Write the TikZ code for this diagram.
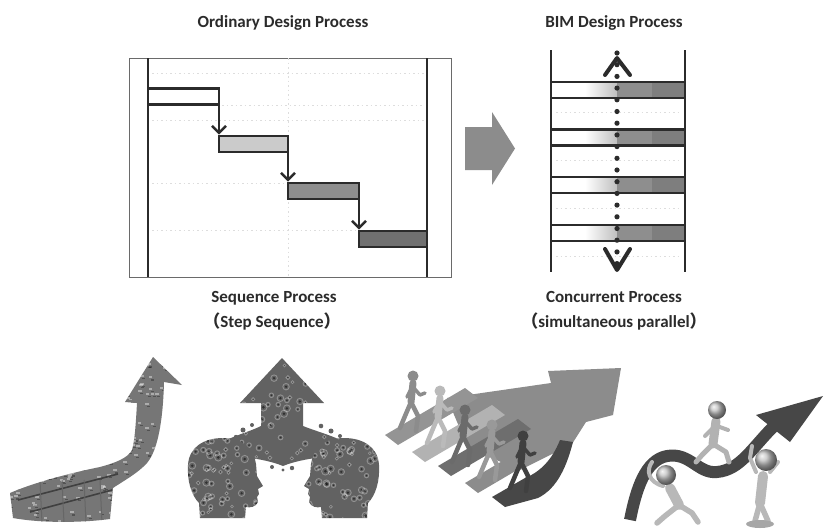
\documentclass[tikz,border=0pt]{standalone}
\usepackage{fontspec}
\setmainfont{Carlito}
\newfontfamily\cjkparen{Noto Sans CJK SC}
\usetikzlibrary{arrows.meta}

\definecolor{ink}{HTML}{2B2B2B}
\definecolor{framegray}{HTML}{6A6A6A}
\definecolor{gridgray}{HTML}{DDDDDD}
\definecolor{barlight}{HTML}{CBCBCB}
\definecolor{barmid}{HTML}{8E8E8E}
\definecolor{bardark}{HTML}{707070}
\definecolor{bigarrow}{HTML}{8C8C8C}
\definecolor{claygray}{HTML}{767676}
\definecolor{geargray}{HTML}{626262}

% random rings and hubs that give a shape a "gear" texture
\newcommand\gearspeckle[5]{%
  \foreach \k in {1,...,#5}{%
    \pgfmathsetmacro\gx{#1+rnd*(#2-#1)}%
    \pgfmathsetmacro\gy{#3+rnd*(#4-#3)}%
    \pgfmathsetmacro\gr{1.2+rnd*2.6}%
    \pgfmathsetmacro\gq{0.4*\gr}%
    \draw[white,opacity=0.3,line width=0.9pt] (\gx,\gy) circle[radius=\gr pt];
    \fill[black,opacity=0.5] (\gx,\gy) circle[radius=\gq pt];
  }}
% random light bricks and dark seams
\newcommand\brickspeckle[5]{%
  \foreach \k in {1,...,#5}{%
    \pgfmathsetmacro\gx{#1+rnd*(#2-#1)}%
    \pgfmathsetmacro\gy{#3+rnd*(#4-#3)}%
    \fill[white,opacity=0.4] (\gx,\gy) rectangle ++(3.5,2);
    \fill[black,opacity=0.3] (\gx+2,\gy+3) rectangle ++(3,1.2);
  }}

\tikzset{
  walker/.pic={
    \draw[line width=7pt,line cap=round] (0,7) -- (-2,26);
    \draw[line width=3.5pt,line cap=round,line join=round] (0,11) -- (7,19) -- (12,17);
    \draw[line width=3.5pt,line cap=round,line join=round] (-1,11) -- (-6,21);
    \draw[line width=4.5pt,line cap=round,line join=round] (-2,26) -- (5,40) -- (3,55);
    \draw[line width=4.5pt,line cap=round,line join=round] (-2,26) -- (-8,40) -- (-13,52);
    \fill (0,0) circle[radius=5.5pt];
  }
}

\begin{document}
\begin{tikzpicture}[x=1pt,y=-1pt,
  headtext/.style={font=\bfseries\fontsize{17}{20}\selectfont,text=ink,inner sep=0pt,anchor=base},
  taskbar/.style={draw=ink,line width=2.4pt,inner sep=0pt,outer sep=0pt,minimum height=16pt},
  flow/.style={draw=ink,line width=2.2pt,shorten >=1.5pt,
    -{Straight Barb[length=7pt,width=14pt,line width=2.4pt]}},
  gridline/.style={gridgray,line width=0.8pt,dash pattern=on 1.5pt off 3pt},
  lane/.style={ink,line width=2.2pt},
  chevron/.style={ink,line width=4pt,line cap=round,line join=round},
  clayman/.style={line cap=round,line join=round}
]
\useasboundingbox (0,0) rectangle (824,528);
\fill[white] (0,0) rectangle (824,528);

% ---------- titles and captions ----------
\node[headtext] (ordtitle) at (283,27) {Ordinary Design Process};
\node[headtext] (bimtitle) at (614,27) {BIM Design Process};
\node[headtext] (seqtitle) at (274,302) {Sequence Process};
\node[headtext] (seqsub) at (272,327) {{\cjkparen （}Step Sequence{\cjkparen ）}};
\node[headtext] (contitle) at (614,302) {Concurrent Process};
\node[headtext] (consub) at (614,327) {{\cjkparen （}simultaneous parallel{\cjkparen ）}};

% ---------- sequential chart ----------
\draw[framegray,line width=1pt] (129,58) rectangle (451,277);
\draw[gridline] (288,58) -- (288,277);
\foreach \gy/\ga/\gb in {73/152/424, 105/222/424, 120/152/424, 183/152/286, 230/152/356}
  \draw[gridline] (\ga,\gy) -- (\gb,\gy);
\draw[ink,line width=2.6pt] (148,58) -- (148,277);
\draw[ink,line width=2.6pt] (427,58) -- (427,277);

\node[taskbar,fill=white,minimum width=71pt] (b1) at (183.5,96.5) {};
\node[taskbar,fill=barlight,minimum width=69pt] (b2) at (253.5,144) {};
\node[taskbar,fill=barmid,minimum width=71pt] (b3) at (323.5,191) {};
\node[taskbar,fill=bardark,minimum width=68pt] (b4) at (393,239) {};
\draw[flow] (b1.south east) -- (b2.north west);
\draw[flow] (b2.south east) -- (b3.north west);
\draw[flow] (b3.south east) -- (b4.north west);

% ---------- transition arrow ----------
\fill[bigarrow] (465,127) -- (492,127) -- (492,112) -- (515,148.5)
  -- (492,185) -- (492,170) -- (465,170) -- cycle;

% ---------- concurrent chart ----------
\foreach \gy in {112,160,208,256}
  \draw[gridline] (556,\gy) -- (680,\gy);
\foreach \cy in {90,137.5,185,233} {
  \shade[left color=white,right color=gray!50] (585,\cy-8) rectangle (617,\cy+8);
  \fill[barmid] (617,\cy-8) rectangle (652,\cy+8);
  \fill[bardark!90] (652,\cy-8) rectangle (685,\cy+8);
  \draw[lane] (551,\cy-8) -- (685,\cy-8);
  \draw[lane] (551,\cy+8) -- (685,\cy+8);
}
\draw[lane] (551,50) -- (551,272);
\draw[lane] (685,50) -- (685,272);
\coordinate (ctop) at (617,58);
\coordinate (cbot) at (617,270);
\draw[ink,line width=5.2pt,line cap=round,dash pattern=on 0pt off 11.7pt] (617,53) -- (617,268);
\draw[chevron] (605,75) -- (ctop) -- (630,75);
\draw[chevron] (605,249) -- (cbot) -- (630,249);

\pgfmathsetseed{11}

% ---------- clip art 1: curved block arrow ----------
\begin{scope}
  \clip (13,518) -- (10,493) .. controls (35,482) and (75,472) .. (100,467)
    .. controls (115,463) and (128,458) .. (132,450)
    .. controls (135,440) and (136,420) .. (137,403) -- (125,402) -- (153,357)
    -- (182,385) -- (164,382) .. controls (163,420) and (158,450) .. (147,463)
    .. controls (138,473) and (125,480) .. (113,488) -- (110,519)
    .. controls (80,523) and (40,523) .. cycle;
  \fill[claygray] (0,350) rectangle (190,528);
  \brickspeckle{8}{185}{355}{525}{300}
  \draw[black!75,line width=1.6pt] (18,500) -- (118,474);
  \draw[black!75,line width=1.6pt] (30,512) -- (112,490);
  \foreach \sx in {40,62,84,100} \draw[black!60,line width=1pt] (\sx,480) -- (\sx+2,523);
\end{scope}

% ---------- clip art 2: two heads and a rising arrow ----------
\begin{scope}
  \clip (282,358) -- (324,403) -- (303,403) -- (303,426)
    .. controls (318,432) and (335,436) .. (350,445) -- (346,456)
    .. controls (325,456) and (300,459) .. (283,466)
    .. controls (266,459) and (241,456) .. (221,456) -- (217,445)
    .. controls (232,436) and (249,432) .. (261,426) -- (261,403) -- (240,403) -- cycle;
  \fill[geargray] (210,350) rectangle (360,470);
  \gearspeckle{215}{355}{355}{470}{90}
\end{scope}
\foreach \dx/\dy/\dr in {243/430/2.5,252/425/2,236/437/2.2,321/426/2.3,331/431/2.5,
  340/436/2,272/467/2,292/468/2.2,283/470/1.6,228/441/1.8}
  \fill[geargray] (\dx,\dy) circle[radius=\dr pt];
\foreach \mirror in {0,1} {
  \begin{scope}[xshift=\mirror*567pt,xscale=1-2*\mirror]
    \clip (200,518) -- (199,503) .. controls (191,495) and (187,480) .. (188,465)
      .. controls (189,447) and (204,438) .. (223,438)
      .. controls (243,438) and (254,449) .. (256,464) -- (257,476) -- (263,486)
      -- (258,489) -- (259,494) -- (257,497) -- (258,502)
      .. controls (256,507) and (250,508) .. (246,507) -- (245,518) -- cycle;
    \fill[geargray] (185,435) rectangle (268,520);
    \gearspeckle{186}{266}{436}{520}{75}
  \end{scope}
}

% ---------- clip art 3: team walking onto a big arrow ----------
\fill[bigarrow] (447,398) -- (551,383) -- (548,371) -- (621,368) -- (613,415)
  -- (586,422) -- (572,444) -- (520,470) -- (468,448) -- cycle;
\foreach \lx/\ly/\tc in {385/435/black!42, 412/452/black!30, 438/466/black!57,
  465/483/black!45} {
  \fill[\tc] (\lx,\ly) -- ++(13,10) -- ++(80,-47) -- ++(-13,-10) -- cycle;
}
\fill[black!72] (492,497) -- (505,507) -- (538,498)
  .. controls (558,488) and (567,465) .. (573,442) -- (560,440)
  .. controls (552,460) and (540,472) .. (525,478) -- cycle;
\pic[color=black!45] at (413,376) {walker};
\pic[color=black!27] at (440,391) {walker};
\pic[color=black!58] at (465,410) {walker};
\pic[color=black!40] at (492,425) {walker};
\pic[color=black!75] at (523,436) {walker};

% ---------- clip art 4: carrying a rising wave arrow ----------
\draw[black!72,line width=12pt] (630,520) .. controls (636,490) and (645,460) .. (667,456)
  .. controls (690,452) and (698,474) .. (717,472)
  .. controls (740,470) and (752,448) .. (773,427);
\fill[black!72] (823,396) -- (756,415) -- (790,442) -- cycle;
% walker on top of the wave
\begin{scope}[clayman,black!30]
  \draw[line width=9pt] (716,421) -- (713,444);
  \draw[line width=5pt] (713,444) -- (726,452) -- (729,462);
  \draw[line width=5pt] (713,444) -- (702,455) -- (696,462);
  \draw[line width=4pt] (717,426) -- (728,430);
  \draw[line width=4pt] (715,426) -- (705,436);
\end{scope}
\shade[ball color=black!25] (717,410) circle[radius=9pt];
% carrier at the lower left
\begin{scope}[clayman,black!28]
  \draw[line width=10pt] (670,488) -- (679,505);
  \draw[line width=5.5pt] (679,505) -- (665,516) -- (657,523);
  \draw[line width=5.5pt] (679,505) -- (692,513) -- (698,522);
  \draw[line width=4pt] (663,486) .. controls (648,482) and (646,470) .. (652,462);
\end{scope}
\shade[ball color=black!25] (666,475) circle[radius=10pt];
% carrier at the right
\begin{scope}[clayman,black!28]
  \draw[line width=10pt] (763,476) -- (760,503);
  \draw[line width=5.5pt] (760,503) -- (755,521);
  \draw[line width=5.5pt] (760,503) -- (768,521);
  \draw[line width=4pt] (756,472) -- (750,458) -- (752,446);
  \draw[line width=4pt] (770,472) -- (778,462);
  \fill[black!35] (760,524) ellipse[x radius=14pt,y radius=4pt];
\end{scope}
\shade[ball color=black!25] (766,460) circle[radius=11pt];
\end{tikzpicture}
\end{document}
